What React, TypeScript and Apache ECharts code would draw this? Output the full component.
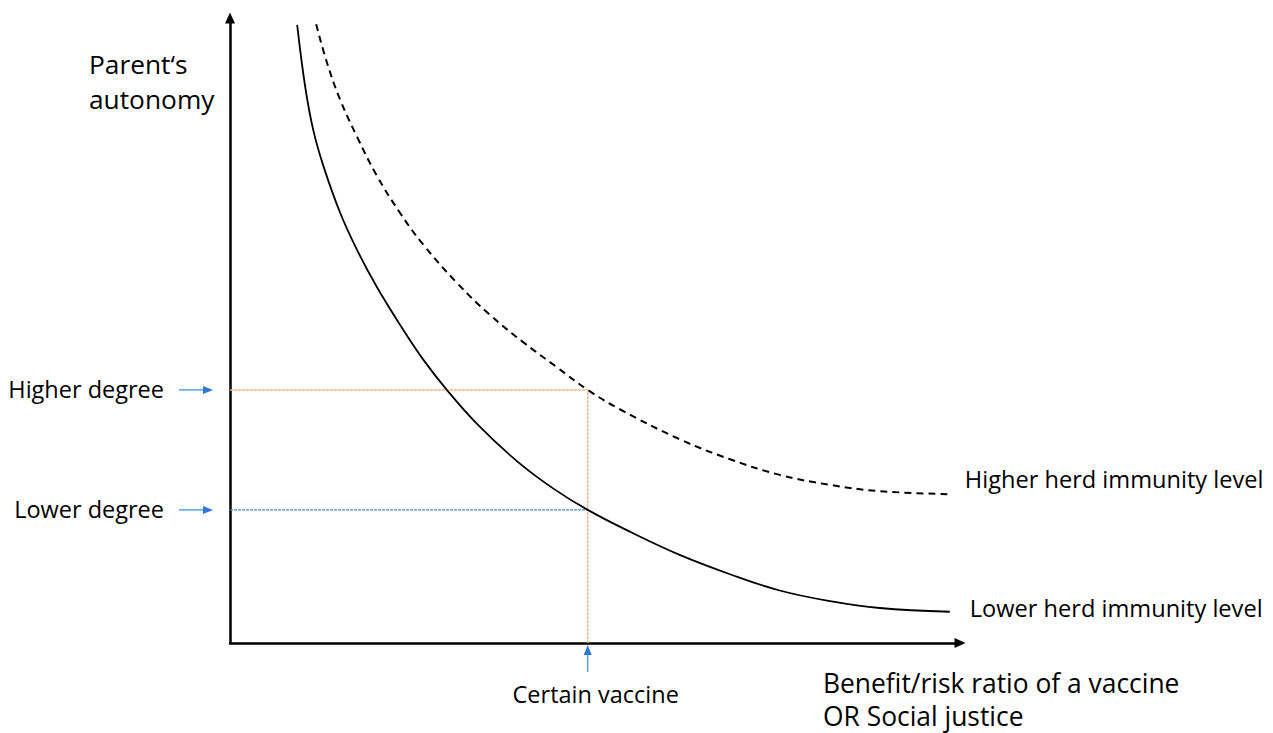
import React, { useEffect, useRef } from "react";
import * as echarts from "echarts";

// Conceptual curves (x: benefit/risk ratio, y: parent's autonomy), 0..100 scales
const LOWER_LEVEL_X = [9.2, 10.3, 11.4, 12.8, 15.1, 17.4, 20.1, 23.3, 26.5, 29.7, 33.8, 39.3, 44.3, 49.0, 54.8, 61.6, 68.5, 75.3, 82.2, 89.0, 98.6];
const LOWER_LEVEL_Y = [98.9, 89.0, 82.1, 76.3, 68.8, 62.9, 57.0, 50.9, 45.3, 40.5, 35.1, 29.1, 24.7, 21.3, 17.8, 14.1, 11.0, 8.4, 6.7, 5.6, 5.0];
const HIGHER_LEVEL_X = [11.8, 13.3, 15.1, 17.4, 20.1, 23.3, 26.5, 31.1, 35.6, 40.2, 44.8, 49.0, 53.4, 61.6, 68.5, 75.3, 82.2, 89.0, 98.6];
const HIGHER_LEVEL_Y = [99.0, 92.8, 86.9, 81.0, 74.8, 68.8, 63.7, 57.6, 52.5, 48.1, 44.1, 40.5, 37.4, 32.6, 29.4, 26.9, 25.3, 24.3, 23.8];

const SERIES_NAMES = ["Lower herd immunity level", "Higher herd immunity level"];
const VACCINE_X = 49.0;
const HIGHER_DEGREE_Y = 40.5;
const LOWER_DEGREE_Y = 21.3;
const Y_LABELS = ["Higher degree", "Lower degree"];
const X_LABEL = "Certain vaccine";
const Y_AXIS_NAME = ["Parent\u2018s", "autonomy"];
const X_AXIS_NAME = ["Benefit/risk ratio of a vaccine", "OR Social justice"];

const FONT = "'Open Sans', 'Noto Sans', sans-serif";

export default function App() {
  const ref = useRef<HTMLDivElement>(null);
  useEffect(() => {
    if (!ref.current) return;
    const chart = echarts.init(ref.current, undefined, { renderer: "svg" });
    const lowerData = LOWER_LEVEL_X.map((x, i) => [x, LOWER_LEVEL_Y[i]]);
    const higherData = HIGHER_LEVEL_X.map((x, i) => [x, HIGHER_LEVEL_Y[i]]);
    const axisCommon = {
      type: "value",
      min: 0,
      max: 100,
      axisLine: {
        show: true,
        onZero: false,
        symbol: ["none", "triangle"],
        symbolSize: [10, 11],
        lineStyle: { color: "#000", width: 2.5 },
      },
      axisTick: { show: false },
      axisLabel: { show: false },
      splitLine: { show: false },
    };
    const option: any = {
      animation: false,
      backgroundColor: "#ffffff",
      grid: { left: 230, top: 18, right: 313, bottom: 90 },
      xAxis: { ...axisCommon },
      yAxis: { ...axisCommon },
      series: [
        {
          type: "line",
          name: "guide-higher",
          data: [
            [0, HIGHER_DEGREE_Y],
            [VACCINE_X, HIGHER_DEGREE_Y],
            [VACCINE_X, 0],
          ],
          showSymbol: false,
          silent: true,
          z: 1,
          lineStyle: { color: "#F4B183", width: 1.5, type: [3, 1] },
        },
        {
          type: "line",
          name: "guide-lower",
          data: [
            [0, LOWER_DEGREE_Y],
            [VACCINE_X, LOWER_DEGREE_Y],
          ],
          showSymbol: false,
          silent: true,
          z: 1,
          lineStyle: { color: "#4F86C6", width: 1.2, type: [3, 1] },
        },
        {
          type: "line",
          name: SERIES_NAMES[0],
          data: lowerData,
          smooth: 0.4,
          showSymbol: false,
          lineStyle: { color: "#000", width: 1.8 },
          endLabel: {
            show: true,
            formatter: "{a}",
            distance: 20,
            offset: [0, -4],
            fontFamily: FONT,
            fontSize: 23.6,
            color: "#000",
          },
        },
        {
          type: "line",
          name: SERIES_NAMES[1],
          data: higherData,
          smooth: 0.4,
          showSymbol: false,
          lineStyle: { color: "#000", width: 2, type: [7, 5] },
          endLabel: {
            show: true,
            formatter: "{a}",
            distance: 15,
            offset: [0, -15],
            fontFamily: FONT,
            fontSize: 23.6,
            color: "#000",
          },
        },
      ],
    };
    chart.setOption(option);

    const origin = chart.convertToPixel({ gridIndex: 0 }, [0, 0]) as number[];
    const hiPt = chart.convertToPixel({ gridIndex: 0 }, [0, HIGHER_DEGREE_Y]) as number[];
    const loPt = chart.convertToPixel({ gridIndex: 0 }, [0, LOWER_DEGREE_Y]) as number[];
    const vPt = chart.convertToPixel({ gridIndex: 0 }, [VACCINE_X, 0]) as number[];
    const ax = origin[0];
    const ay = origin[1];
    const shaft = "#5BA3E6";
    const head = "#2C78D4";

    const hArrow = (y: number) => [
      {
        type: "line",
        shape: { x1: ax - 51, y1: y, x2: ax - 24, y2: y },
        style: { stroke: shaft, lineWidth: 1.5 },
      },
      {
        type: "polygon",
        shape: { points: [[ax - 17, y], [ax - 27, y - 4], [ax - 27, y + 4]] },
        style: { fill: head },
      },
    ];
    const textStyle = (t: string, size: number, align: string, lh?: number) => ({
      text: t,
      fontFamily: FONT,
      fontSize: size,
      lineHeight: lh ?? size * 1.2,
      fill: "#000",
      align,
      verticalAlign: "middle",
    });

    chart.setOption({
      graphic: [
        ...hArrow(hiPt[1]),
        ...hArrow(loPt[1]),
        {
          type: "line",
          shape: { x1: vPt[0], y1: ay + 29, x2: vPt[0], y2: ay + 10 },
          style: { stroke: shaft, lineWidth: 1.5 },
        },
        {
          type: "polygon",
          shape: { points: [[vPt[0], ay + 2], [vPt[0] - 4, ay + 12], [vPt[0] + 4, ay + 12]] },
          style: { fill: head },
        },
        { type: "text", x: ax - 66, y: hiPt[1] - 1, style: textStyle(Y_LABELS[0], 23.5, "right") },
        { type: "text", x: ax - 66, y: loPt[1] - 1, style: textStyle(Y_LABELS[1], 23.5, "right") },
        { type: "text", x: vPt[0] + 8, y: ay + 51, style: textStyle(X_LABEL, 23.5, "center") },
        { type: "text", x: 89, y: 81.5, style: textStyle(Y_AXIS_NAME.join("\n"), 26.3, "left", 35) },
        { type: "text", x: 823, y: 699, style: textStyle(X_AXIS_NAME.join("\n"), 26.4, "left", 33) },
      ],
    });

    return () => chart.dispose();
  }, []);
  return (
    <div
      ref={ref}
      style={{ position: "fixed", left: 0, top: 0, width: 1273, height: 733, background: "#fff" }}
    />
  );
}
